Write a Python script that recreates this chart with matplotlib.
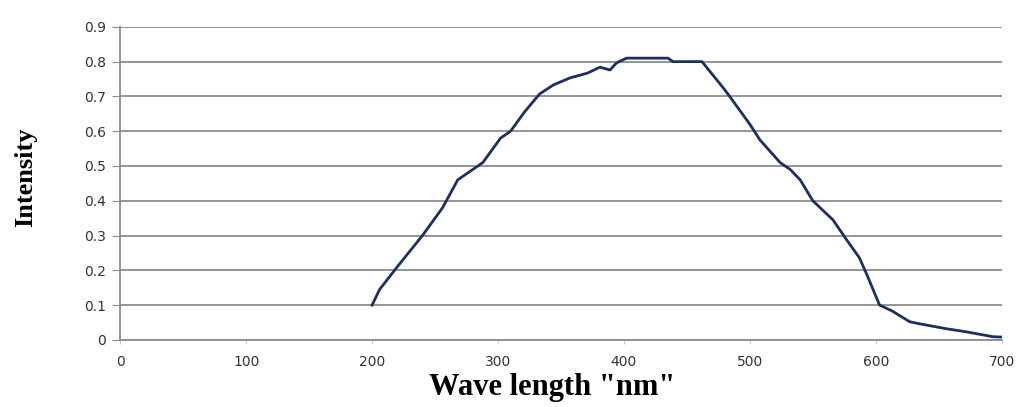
import matplotlib.pyplot as plt

# wavelength (nm) and intensity
wavelength = [200, 206, 220, 240, 256, 268, 280, 288, 302, 310, 321, 333, 344, 357,
              371, 381, 389, 394, 402, 435, 439, 445, 462, 479, 484, 500, 508, 524,
              532, 540, 550, 566, 577, 587, 593, 603, 613, 627, 635, 656, 672, 693, 700]
intensity = [0.10, 0.145, 0.21, 0.30, 0.38, 0.46, 0.49, 0.51, 0.58, 0.60, 0.655, 0.707,
             0.733, 0.753, 0.767, 0.784, 0.776, 0.796, 0.81, 0.81, 0.80, 0.80, 0.80,
             0.724, 0.70, 0.62, 0.575, 0.51, 0.49, 0.46, 0.40, 0.345, 0.287, 0.236,
             0.187, 0.10, 0.083, 0.052, 0.046, 0.032, 0.023, 0.009, 0.008]
x_ticks = [0, 100, 200, 300, 400, 500, 600, 700]
y_ticks = [0, 0.1, 0.2, 0.3, 0.4, 0.5, 0.6, 0.7, 0.8, 0.9]

fig = plt.figure(figsize=(10.19, 4.07), dpi=100)
ax = fig.add_axes([0.118, 0.165, 0.865, 0.769])

ax.plot(wavelength, intensity, color='#1c2f5e', lw=2)

ax.set_xlim(0, 700)
ax.set_ylim(0, 0.9)
ax.set_xticks(x_ticks)
ax.set_yticks(y_ticks)
ax.set_yticklabels(['0'] + ['%.1f' % v for v in y_ticks[1:]])
ax.grid(axis='y', color='#8c8c8c', lw=1.3)
ax.set_axisbelow(True)

for s in ['top', 'right']:
    ax.spines[s].set_visible(False)
ax.spines['left'].set_color('#8c8c8c')
ax.spines['bottom'].set_color('#8c8c8c')
ax.spines['left'].set_linewidth(1.3)
ax.spines['bottom'].set_linewidth(1.3)

ax.tick_params(axis='y', length=6, color='#8c8c8c', labelsize=10, pad=4, labelcolor='#333333')
ax.tick_params(axis='x', length=3, color='#cccccc', labelsize=10, pad=8, labelcolor='#333333')
for t in ax.get_xticklabels() + ax.get_yticklabels():
    t.set_family('DejaVu Sans')

ax.set_xlabel('Wave length "nm"', family='Liberation Serif', fontweight='bold',
              fontsize=22, labelpad=6)
ax.xaxis.set_label_coords(0.49, -0.105)
ax.xaxis.label.set_va('top')
ax.set_ylabel('Intensity', family='Liberation Serif', fontweight='bold',
              fontsize=19, labelpad=34)
ax.yaxis.set_label_coords(-0.094, 0.518)

fig.savefig('out.png', dpi=100)
